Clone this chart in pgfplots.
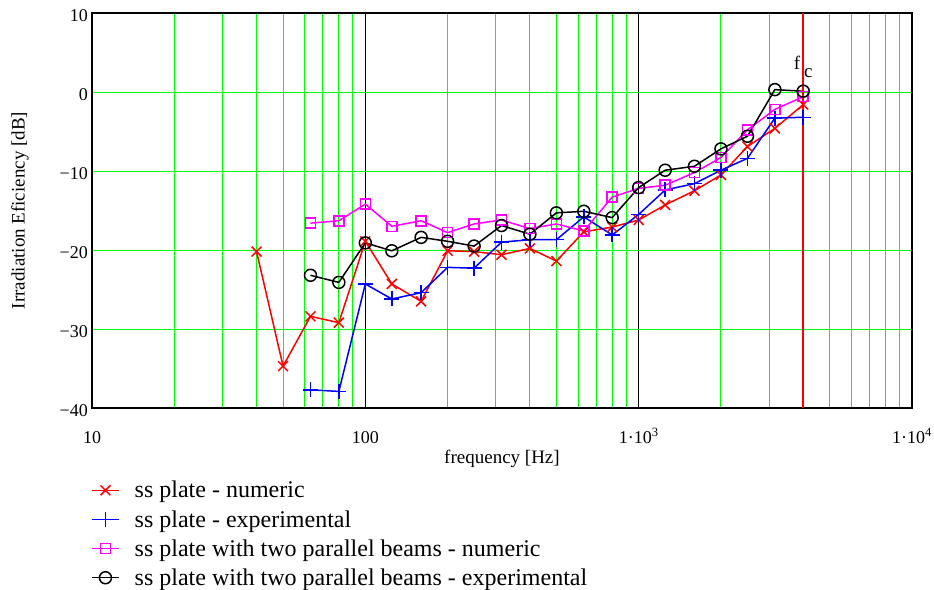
\documentclass[border=0pt]{standalone}
\usepackage{fontspec}
\setmainfont{Liberation Serif}
\usepackage{pgfplots}
\pgfplotsset{compat=1.18}
\definecolor{gridgreen}{RGB}{0,255,0}
\definecolor{magpink}{RGB}{255,0,255}
\definecolor{plotblue}{RGB}{0,0,255}
\begin{document}
\begin{tikzpicture}
\useasboundingbox (-92pt,-181pt) rectangle (842pt,408pt);
\begin{axis}[
    scale only axis,
    width=820pt, height=395pt,
    xmode=log,
    xmin=10, xmax=10000,
    ymin=-40, ymax=10,
    xtick={10,100,1000,10000},
    xticklabels={10,100,1·10\textsuperscript{3},1·10\textsuperscript{4}},
    ytick={-40,-30,-20,-10,0,10},
    yticklabels={−40,−30,−20,−10,0,10},
    major tick length=0pt, minor tick length=0pt,
    xmajorgrids, xminorgrids, ymajorgrids,
    major x grid style={black, line width=0.9pt},
    minor x grid style={gridgreen, line width=1pt},
    major y grid style={gridgreen, line width=1pt},
    axis line style={line width=1.8pt},
    tick label style={font=\fontsize{18}{20}\selectfont},
    xticklabel style={anchor=base, yshift=-35pt, inner sep=0pt},
    yticklabel style={anchor=east, xshift=-4pt, yshift=-3pt, inner sep=0pt},
    xlabel={frequency [Hz]},
    ylabel={Irradiation Eficiency [dB]},
    label style={font=\fontsize{19}{21}\selectfont},
    xlabel style={at={(axis description cs:0.5,0)}, anchor=base, yshift=-55pt, inner sep=0pt},
    ylabel style={at={(axis description cs:-0.0878,0.5)}, anchor=center, inner sep=0pt},
    legend style={at={(axis description cs:0,0)}, anchor=north west, xshift=-4pt, yshift=-69pt,
        draw=none, fill=none, font=\fontsize{24}{29}\selectfont, row sep=7pt,
        /tikz/every odd column/.append style={column sep=13pt}},
    legend cell align=left,
    legend image code/.code={\draw[mark repeat=2,mark phase=2,#1] plot coordinates {(0pt,0pt) (13.5pt,0pt) (27pt,0pt)};},
]
\addplot[color=red, line width=1.5pt, mark=x, mark size=7pt] coordinates {
(40,-20.2)(50,-34.7)(63,-28.4)(80,-29.2)(100,-18.9)(125,-24.3)(160,-26.5)
(200,-20.1)(250,-20.2)(315,-20.6)(400,-19.8)(500,-21.4)(630,-17.7)(800,-17.1)
(1000,-16.2)(1250,-14.3)(1600,-12.5)(2000,-10.5)(2500,-6.9)(3150,-4.6)(4000,-1.6)
};
\addlegendentry{ss plate - numeric}
\addplot[color=plotblue, line width=1.5pt, mark=+, mark size=7.5pt, mark options={draw=plotblue}] coordinates {
(63,-37.7)(80,-37.9)(100,-24.3)(125,-26.2)(160,-25.4)(200,-22.2)(250,-22.3)
(315,-19.0)(400,-18.7)(500,-18.7)(630,-15.8)(800,-18.1)(1000,-15.5)(1250,-12.4)
(1600,-11.6)(2000,-9.9)(2500,-8.4)(3150,-3.3)(4000,-3.2)
};
\addlegendentry{ss plate - experimental}
\addplot[color=magpink, line width=1.5pt, mark=square, mark size=5pt] coordinates {
(63,-16.6)(80,-16.3)(100,-14.2)(125,-17.0)(160,-16.3)(200,-17.8)(250,-16.7)
(315,-16.2)(400,-17.3)(500,-16.7)(630,-17.6)(800,-13.3)(1000,-12.2)(1250,-11.8)
(1600,-10.2)(2000,-8.3)(2500,-4.8)(3150,-2.2)(4000,-0.6)
};
\addlegendentry{ss plate with two parallel beams - numeric}
\addplot[color=black, line width=1.5pt, mark=o, mark size=6pt] coordinates {
(63,-23.2)(80,-24.1)(100,-19.1)(125,-20.1)(160,-18.4)(200,-18.9)(250,-19.5)
(315,-16.9)(400,-18.0)(500,-15.3)(630,-15.1)(800,-15.9)(1000,-12.1)(1250,-9.9)
(1600,-9.4)(2000,-7.2)(2500,-5.6)(3150,0.3)(4000,0.1)
};
\addlegendentry{ss plate with two parallel beams - experimental}
\draw[red, line width=1.5pt] (axis cs:4000,-40) -- (axis cs:4000,10);
\node[font=\fontsize{19}{20}\selectfont, anchor=base, inner sep=0pt] at (axis cs:4000,2.8) {f\hspace{4pt}\raisebox{-8pt}{c}};
\end{axis}
\end{tikzpicture}
\end{document}
